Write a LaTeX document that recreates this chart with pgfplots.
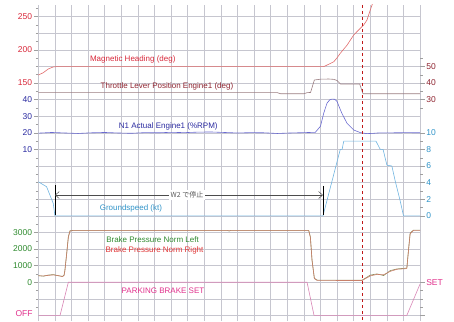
\documentclass[border=0pt]{standalone}
\usepackage{pgfplots}
\pgfplotsset{compat=1.18}
\usepackage{fontspec}
\setmainfont{Liberation Sans}
\newfontfamily\cjk{Noto Sans CJK JP}
\usetikzlibrary{arrows.meta}

\definecolor{gridc}{HTML}{C6C6CF}
\definecolor{hdgtxt}{HTML}{D8283A}
\definecolor{hdgln}{HTML}{E06A6A}
\definecolor{thrtxt}{HTML}{8E2430}
\definecolor{thrln}{HTML}{9A7C80}
\definecolor{n1txt}{HTML}{2A2AA0}
\definecolor{n1ln}{HTML}{6A6AD0}
\definecolor{gstxt}{HTML}{2F93C8}
\definecolor{gsln}{HTML}{70B4E0}
\definecolor{brL}{HTML}{2E8A2E}
\definecolor{brR}{HTML}{E03535}
\definecolor{brLln}{HTML}{8C9060}
\definecolor{brRln}{HTML}{C8806A}
\definecolor{pktxt}{HTML}{E0308C}
\definecolor{pkln}{HTML}{D884B4}
\definecolor{eventln}{HTML}{C01818}
\definecolor{notetxt}{HTML}{5A5A5A}

\pgfplotsset{
  frame/.style={
    scale only axis, width=381.8pt, height=316pt,
    at={(38.3pt,0pt)}, anchor=south west,
    xmin=0, xmax=23,
  },
  track/.style={
    frame, hide x axis,
    axis line style={draw=none,-},
    tick align=outside,
    major tick length=4.5pt, minor tick length=2.5pt,
    tick style={draw=gray!75, line width=0.4pt},
    yticklabel style={font=\fontsize{8.5}{9}\selectfont, inner sep=1.5pt},
    scaled y ticks=false,
    /pgf/number format/assume math mode=true,
    /pgf/number format/set thousands separator={},
    every axis plot/.append style={line width=0.6pt, mark=none, line join=round},
  },
  lefttrack/.style={track, axis y line*=left},
  righttrack/.style={track, axis y line*=right},
}

\begin{document}
\begin{tikzpicture}[x=1pt,y=1pt]
\path[use as bounding box] (0,0) rectangle (454,321);
\begin{scope}
\clip (0,0) rectangle (454,321);

% background grid: one square per column and per row
\begin{axis}[frame, ymin=-19.337, ymax=-0.301,
  xtick={0,...,23}, ytick={-19,...,-1},
  xticklabels={}, yticklabels={},
  axis line style={draw=none}, tick style={draw=none},
  grid=major, major grid style={gridc, line width=0.5pt}]
\end{axis}

% Magnetic heading (deg), left scale
\begin{axis}[lefttrack, ymin=-208.43, ymax=267.47,
  ytick={150,200,250}, minor ytick={137.5,162.5,175,187.5,212.5,225,237.5,262.5},
  yticklabel style={text=hdgtxt}]
\addplot[hdgln] coordinates {(0,162.0)(0.3,165.5)(0.6,171.1)(0.9,174.2)(1.1,174.6)
  (8,174.6)(17.19,174.6)(17.39,177)(17.6,179.5)(17.8,182)(18.0,188)(18.19,194.7)
  (18.6,207)(19.0,222.3)(19.4,232.4)(19.6,237.3)(19.8,244.9)(20.0,259.9)(20.14,270)(20.3,280)};
\end{axis}

% Throttle lever position engine 1 (deg), right scale
\begin{axis}[righttrack, ymin=-103.37, ymax=86.99,
  ytick={30,40,50}, minor ytick={25,35,45,55},
  yticklabel style={text=thrtxt}]
\addplot[thrln] coordinates {(0,34.2)(14.4,34.2)(14.6,33.5)(16.0,33.5)(16.2,34.2)(16.4,34.3)
  (16.63,41.8)(17.0,42.3)(17.5,42.4)(17.8,42.2)(18.0,41.5)(18.2,39.4)(19.36,39.4)
  (19.56,33.5)(23,33.5)};
\end{axis}

% N1 actual engine 1 (%RPM), left scale
\begin{axis}[lefttrack, ymin=-93.37, ymax=96.99,
  ytick={10,20,30,40}, minor ytick={-30,-25,-20,-15,-10,-5,0,5,15,25,35},
  yticklabel style={text=n1txt}]
\addplot[n1ln] coordinates {(0,19.8)(0.8,20.2)(1.6,19.9)(2.4,19.6)(3.2,20.0)(4.0,20.2)
  (4.8,19.9)(5.6,19.7)(6.4,20.1)(7.2,20.0)(8.0,20.3)(8.8,20.1)(9.6,20.4)(10.4,20.5)
  (11.2,20.2)(12.0,19.9)(12.8,20.1)(13.6,20.0)(14.4,19.6)(15.2,19.9)(16.0,20.1)
  (16.69,20.3)(17.0,24)(17.19,31.7)(17.39,37.8)(17.55,39.8)(17.69,40.3)(17.85,40.2)
  (17.99,39)(18.15,35)(18.29,31.7)(18.6,25.7)(19.0,21.7)(19.4,20.1)(19.8,19.5)
  (20.2,19.7)(20.6,20.0)(21.4,20.0)(22.2,20.1)(23,20.0)};
\end{axis}

% Groundspeed (kt), right scale
\begin{axis}[righttrack, ymin=-12.674, ymax=25.398,
  ytick={0,2,4,6,8,10}, minor ytick={1,3,5,7,9},
  yticklabel style={text=gstxt}]
\addplot[gsln] coordinates {(0,4.1)(0.5,3.5)(0.7,2.5)(0.9,1.5)(1.0,0)(17.15,0)
  (18.19,8)(18.3,8)(18.4,9)(20.34,9)(20.6,8)(20.77,8)(21.0,6.1)(21.3,6)(21.5,4.2)
  (21.65,3)(21.8,1.8)(22.0,0)(23,0)};
\end{axis}

% Brake pressure, left scale
\begin{axis}[lefttrack, ymin=-2337, ymax=16699,
  ytick={0,1000,2000,3000}, minor ytick={-1500,-1000,-500,500,1500,2500,3500},
  yticklabel style={text=brL}]
\addplot[brLln] coordinates {(0,400)(0.3,360)(0.6,430)(0.9,460)(1.2,390)(1.45,350)
  (1.55,420)(1.6,700)(1.71,1740)(1.81,2740)(1.91,3100)(2.1,3120)(11.4,3120)(11.5,3080)
  (11.6,3120)(16.29,3120)(16.39,2740)(16.49,1340)(16.63,240)(16.79,130)(19.5,120)
  (20.0,430)(20.4,500)(20.8,400)(21.2,700)(21.6,800)(22.2,850)(22.3,1940)(22.4,2960)
  (22.6,3140)(23,3140)};
\addplot[brRln] coordinates {(0,380)(0.3,380)(0.6,410)(0.9,440)(1.2,400)(1.45,340)
  (1.55,400)(1.6,680)(1.71,1700)(1.81,2700)(1.91,3080)(2.1,3110)(16.29,3110)(16.39,2700)
  (16.49,1300)(16.63,220)(16.79,110)(19.5,100)(20.0,380)(20.4,470)(20.8,450)(21.2,650)
  (21.6,780)(22.2,820)(22.3,1900)(22.4,2920)(22.6,3120)(23,3120)};
\end{axis}

% Parking brake (OFF = 0, SET = 1), right scale
\begin{axis}[righttrack, ymin=-0.1685, ymax=9.3495,
  ytick={0,1}, yticklabels={,SET}, minor ytick={0.25,0.5,0.75},
  yticklabel style={text=pktxt}]
\addplot[pkln] coordinates {(0,0)(1.31,0)(1.81,1)(16.19,1)(16.61,0)(22.2,0)(23,0.95)};
\end{axis}

% labels, event marker and stop annotation
\begin{axis}[frame, ymin=-19.337, ymax=-0.301, hide axis, clip=false]
\draw[eventln, dashed, line width=0.6pt] (19.49,-0.301) -- (19.49,-19.337);
\begin{scope}[font=\fontsize{8}{9}\selectfont]
\node[text=hdgtxt] at (5.69,-3.57) {Magnetic Heading (deg)};
\node[text=thrtxt] at (7.75,-5.18) {Throttle Lever Position Engine1 (deg)};
\node[text=n1txt] at (7.83,-7.59) {N1 Actual Engine1 (\%RPM)};
\node[text=gstxt] at (5.58,-12.55) {Groundspeed (kt)};
\node[text=brL] at (6.88,-14.42) {Brake Pressure Norm Left};
\node[text=brR] at (7.0,-15.1) {Brake Pressure Norm Right};
\node[text=pktxt] at (7.51,-17.53) {PARKING BRAKE SET};
\end{scope}
\draw[black, line width=0.7pt] (1.0,-11.15) -- (1.0,-12.95);
\draw[black, line width=0.7pt] (17.15,-11.2) -- (17.15,-12.95);
\draw[gray!60!black, line width=0.5pt, {Straight Barb[length=4pt,width=7pt]}-{Straight Barb[length=4pt,width=7pt]}]
  (1.0,-11.75) -- (17.15,-11.75);
\node[fill=white, inner sep=1.5pt, text=notetxt, font=\cjk\fontsize{7}{8}\selectfont] at (8.96,-11.75) {W2 で停止};
\end{axis}

% OFF state label of the parking brake
\node[text=pktxt, font=\fontsize{8.5}{9}\selectfont, anchor=south] at (24,0.5) {OFF};
\end{scope}
\end{tikzpicture}
\end{document}
